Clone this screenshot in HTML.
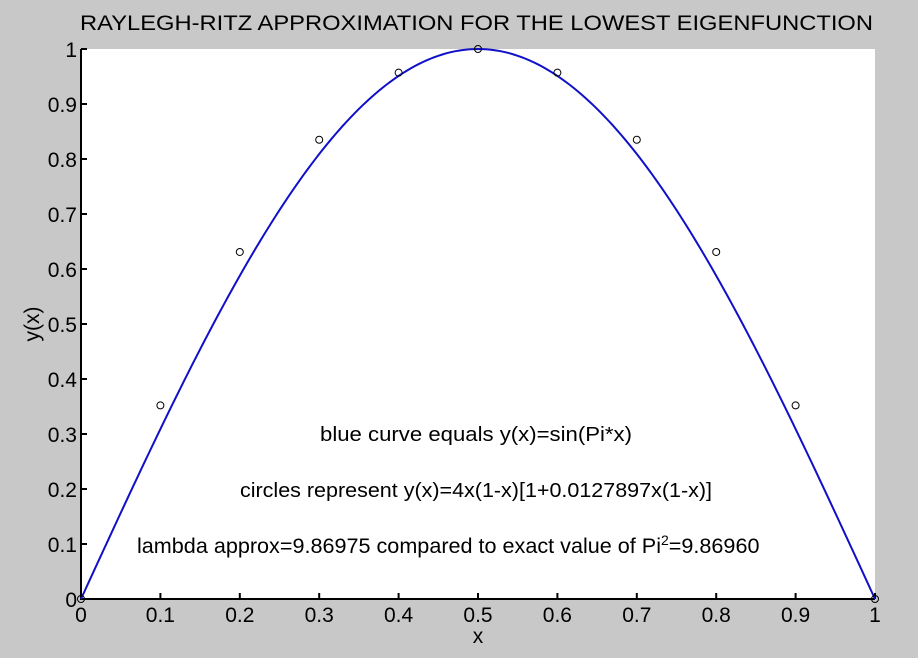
<!DOCTYPE html>
<html><head><style>
html,body{margin:0;padding:0;background:#c8c8c8;}
svg{display:block;font-family:"Liberation Sans",sans-serif;}
</style></head><body>
<svg id="s" width="918" height="658" viewBox="0 0 918 658">
<rect x="0" y="0" width="918" height="658" fill="#c8c8c8"/>
<rect x="81" y="49" width="794" height="550" fill="#fff"/>
<text x="80" y="30" font-size="21" textLength="793" lengthAdjust="spacingAndGlyphs" fill="#000">RAYLEGH-RITZ APPROXIMATION FOR THE LOWEST EIGENFUNCTION</text>
<g id="ax" stroke="#000" stroke-width="2" fill="none"></g>
<g id="lab" font-size="21" fill="#000"></g>
<path id="curve" fill="none" stroke="#1010c8" stroke-width="2"/>
<g id="circ" fill="none" stroke="#000" stroke-width="1"></g>
<text x="478" y="643" font-size="21" text-anchor="middle">x</text>
<text transform="translate(39,324) rotate(-90)" font-size="21" text-anchor="middle">y(x)</text>
<text x="320" y="441" font-size="20" textLength="312" lengthAdjust="spacingAndGlyphs">blue curve equals y(x)=sin(Pi*x)</text>
<text x="240" y="497" font-size="20" textLength="472" lengthAdjust="spacingAndGlyphs">circles represent y(x)=4x(1-x)[1+0.0127897x(1-x)]</text>
<text x="137" y="553" font-size="21.6">lambda approx=9.86975 compared to exact value of Pi<tspan dy="-8" font-size="14">2</tspan><tspan dy="8">=9.86960</tspan></text>
</svg>
<script>
var X0=81,Y0=599,W=794,H=550,ns="http://www.w3.org/2000/svg";
function px(x){return X0+x*W} function py(y){return Y0-y*H}
var ax=document.getElementById('ax'),lab=document.getElementById('lab');
var d="M81,49 L81,599 L875,599";
for(var i=0;i<=10;i++){
 var x=px(i/10),y=py(i/10);
 d+=" M"+x+",599 L"+x+",593 M81,"+y+" L87,"+y;
 var t=document.createElementNS(ns,'text');t.setAttribute('x',x);t.setAttribute('y',622);t.setAttribute('text-anchor','middle');t.textContent=i==0?'0':i==10?'1':'0.'+i;lab.appendChild(t);
 t=document.createElementNS(ns,'text');t.setAttribute('x',77);t.setAttribute('y',y+8);t.setAttribute('text-anchor','end');t.textContent=i==0?'0':i==10?'1':'0.'+i;lab.appendChild(t);
}
var p=document.createElementNS(ns,'path');p.setAttribute('d',d);ax.appendChild(p);
var c="";for(var k=0;k<=200;k++){var x=k/200;c+=(k?"L":"M")+px(x).toFixed(2)+","+py(Math.sin(Math.PI*x)).toFixed(2);}
document.getElementById('curve').setAttribute('d',c);
var vals=[0,0.352,0.631,0.835,0.957,1,0.957,0.835,0.631,0.352,0];
var g=document.getElementById('circ');
vals.forEach(function(v,i){var e=document.createElementNS(ns,'circle');e.setAttribute('cx',px(i/10));e.setAttribute('cy',py(v));e.setAttribute('r',3.5);g.appendChild(e);});
</script>
</body></html>
